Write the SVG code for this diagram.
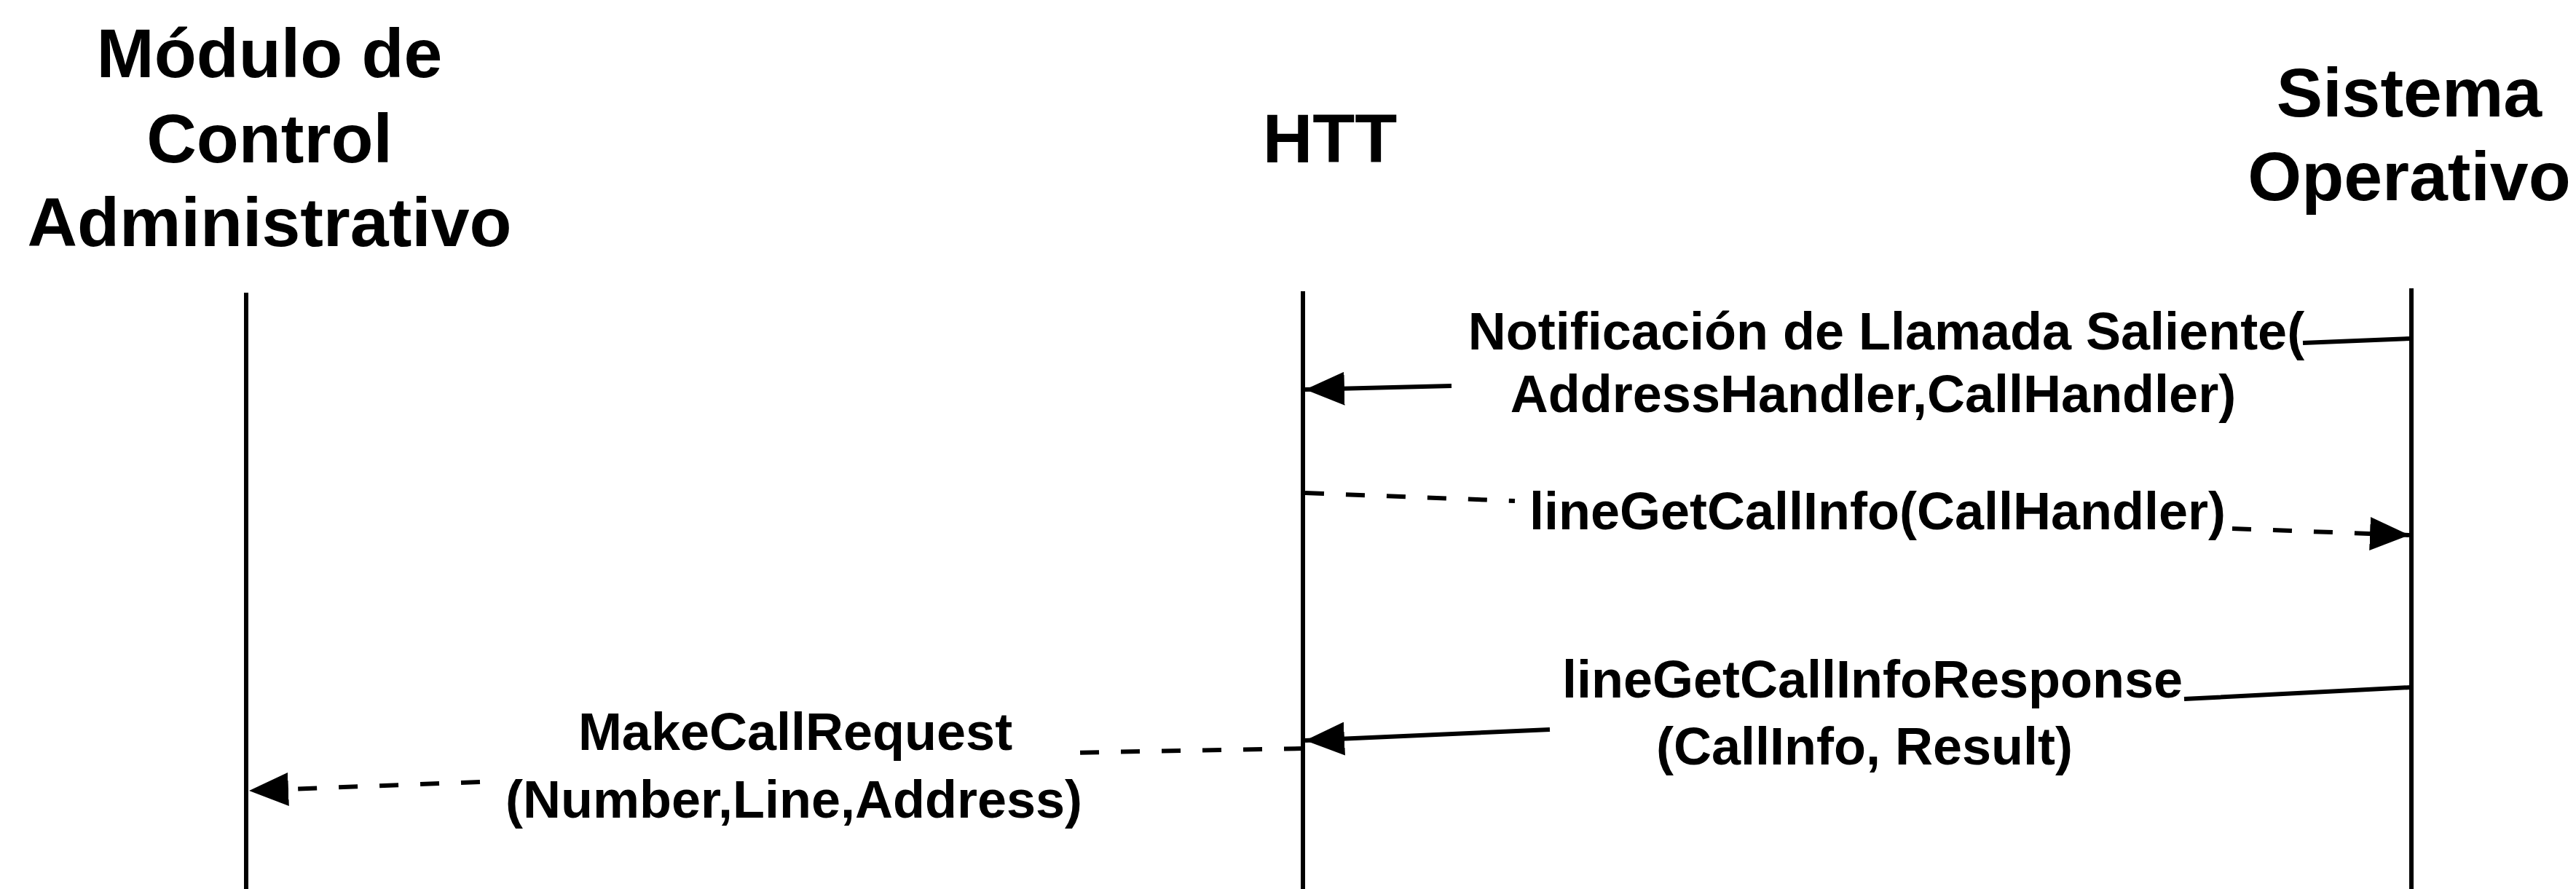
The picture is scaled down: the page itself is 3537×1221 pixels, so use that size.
<svg xmlns="http://www.w3.org/2000/svg" width="3537" height="1221" viewBox="0 0 3537 1221">
<style>
.hdr{font-family:"Liberation Sans",Arial,sans-serif;font-weight:bold;font-size:95px;fill:#000;text-anchor:middle}
.lbl{font-family:"Liberation Sans",Arial,sans-serif;font-weight:bold;font-size:72px;fill:#000;text-anchor:middle}
.life{stroke:#000;stroke-width:6;fill:none}
.msg{stroke:#000;stroke-width:6;fill:none;marker-end:url(#ah)}
.dash{stroke-dasharray:26 30}
</style>
<defs>
<marker id="ah" markerUnits="userSpaceOnUse" markerWidth="54" markerHeight="46" viewBox="0 0 54 46" refX="54" refY="23" orient="auto">
<path d="M0,0 L54,23 L0,46 z" fill="#000" stroke="none"/>
</marker>
</defs>
<rect x="0" y="0" width="3537" height="1221" fill="#fff"/>
<g id="modulo">
<text class="hdr" x="370" y="106">Módulo de</text>
<text class="hdr" x="370" y="223">Control</text>
<text class="hdr" x="370" y="338">Administrativo</text>
<line class="life" x1="338" y1="402" x2="338" y2="1221"/>
</g>
<g id="htt">
<text class="hdr" x="1826" y="223">HTT</text>
<line class="life" x1="1789" y1="400" x2="1789" y2="1221"/>
</g>
<g id="sistema">
<text class="hdr" x="3308" y="160">Sistema</text>
<text class="hdr" x="3308" y="275">Operativo</text>
<line class="life" x1="3311" y1="396" x2="3311" y2="1221"/>
</g>
<g id="connectors">
<path class="msg" d="M3311,465 L3162,471 M1993,530 L1792,535"/>
<path class="msg dash" d="M1792,677 L2080,688 M3065,726 L3308,735"/>
<path class="msg" d="M3311,944 L2999,960 M2128,1002 L1792,1017"/>
<path class="msg dash" d="M1789,1028 L1463,1034 M659,1074 L342,1086"/>
</g>
<g id="labels">
<text class="lbl" x="2590" y="480">Notificación de Llamada Saliente(</text>
<text class="lbl" x="2572" y="566">AddressHandler,CallHandler)</text>
<text class="lbl" x="2578" y="727">lineGetCallInfo(CallHandler)</text>
<text class="lbl" x="2571" y="958">lineGetCallInfoResponse</text>
<text class="lbl" x="2560" y="1050">(CallInfo, Result)</text>
<text class="lbl" x="1092" y="1030">MakeCallRequest</text>
<text class="lbl" x="1090" y="1123">(Number,Line,Address)</text>
</g>
</svg>
